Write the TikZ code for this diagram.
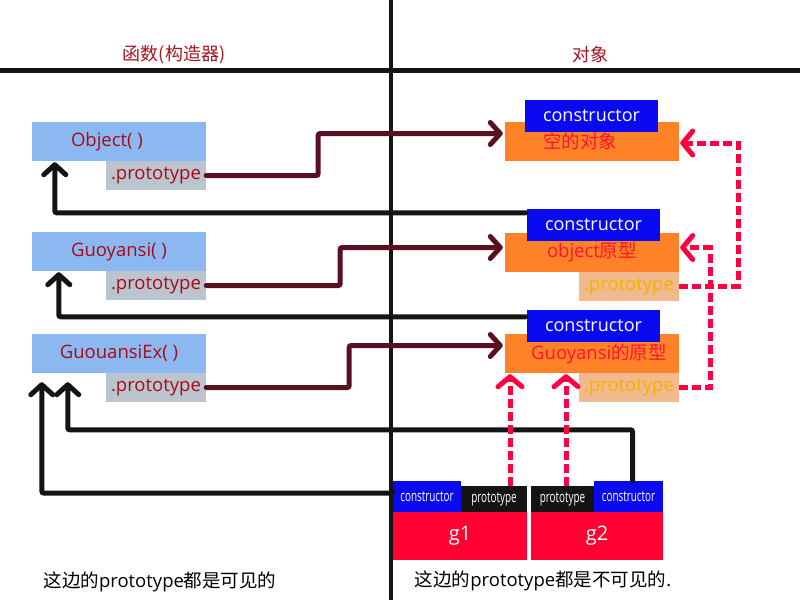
\documentclass[tikz,border=0pt]{standalone}
\usepackage{fontspec}
\usepackage{graphicx}
\setmainfont{Open Sans}
\newfontfamily\cjk{Noto Sans CJK SC}
\usetikzlibrary{arrows.meta,calc}
\definecolor{hdr}{RGB}{165,20,30}
\definecolor{dred}{RGB}{170,10,20}
\definecolor{lblue}{RGB}{139,184,240}
\definecolor{lgray}{RGB}{186,197,208}
\definecolor{orng}{RGB}{255,130,40}
\definecolor{cblue}{RGB}{10,10,240}
\definecolor{otext}{RGB}{255,20,50}
\definecolor{lorng}{RGB}{240,186,142}
\definecolor{ptext}{RGB}{248,176,0}
\definecolor{maroon}{RGB}{90,16,32}
\definecolor{lblack}{RGB}{20,20,20}
\definecolor{rdash}{RGB}{255,0,64}
\definecolor{gred}{RGB}{255,0,51}
\begin{document}
\begin{tikzpicture}[x=1pt,y=-1pt,
  fbox/.style={rectangle, fill=lblue, minimum width=174, minimum height=39, inner sep=0, text=dred, font=\fontsize{18.5}{22}\selectfont},
  pbox/.style={rectangle, fill=lgray, minimum width=100, minimum height=29, inner sep=0, text=dred, font=\fontsize{18.5}{22}\selectfont},
  obox/.style={rectangle, fill=orng, minimum width=174, minimum height=39, inner sep=0, text=otext, font=\fontsize{18.5}{22}\selectfont},
  cbox/.style={rectangle, fill=cblue, minimum width=133, minimum height=32, inner sep=0, text=white, font=\fontsize{18}{21}\selectfont},
  opbox/.style={rectangle, fill=lorng, minimum width=100, minimum height=28.5, inner sep=0, text=ptext, font=\fontsize{18.5}{22}\selectfont},
  gbox/.style={rectangle, fill=gred, minimum height=48, inner sep=0, text=white, font=\fontsize{20}{24}\selectfont},
  gcbox/.style={rectangle, fill=cblue, minimum height=31, inner sep=0, text=white, font=\fontsize{15}{18}\selectfont},
  gpbox/.style={rectangle, fill=lblack, minimum height=26, inner sep=0, text=white, font=\fontsize{15}{18}\selectfont},
  hdrtext/.style={text=hdr, font=\cjk\fontsize{18}{21}\selectfont, inner sep=0},
  btext/.style={text=black, font=\fontsize{18.5}{22}\selectfont, inner sep=0},
  blk/.style={draw=lblack, line width=5pt, rounded corners=2pt, line cap=round, -{Straight Barb[length=10pt,width=22pt,round]}},
  mrn/.style={draw=maroon, line width=5pt, rounded corners=2pt, line cap=round, -{Straight Barb[length=10pt,width=22pt,round]}},
  rdd/.style={draw=rdash, line width=5pt, dash pattern=on 9pt off 4pt, -{Straight Barb[length=10pt,width=24pt,round]}},
  divider/.style={draw=lblack, line width=4.5pt}
]
\useasboundingbox (0,0) rectangle (800,600);
\fill[white] (0,0) rectangle (800,600);
% dividers
\draw[divider] (391,0) -- (391,600);
\draw[divider] (0,70.5) -- (800,70.5);
% headers
\node[hdrtext] (h1) at (174,55) {函数(构造器)};
\node[hdrtext] (h2) at (590,55) {对象};
% left boxes
\node[fbox] (obj) at (119,141.5) {Object( )\hspace*{24pt}};
\node[pbox] (objp) at (156,175.5) {.prototype};
\node[fbox] (guo) at (119,251.5) {Guoyansi( )};
\node[pbox] (guop) at (156,285.5) {.prototype};
\node[fbox] (guoex) at (119,353.5) {GuouansiEx( )};
\node[pbox] (guoexp) at (156,387.5) {.prototype};
% right boxes
\node[obox] (o1) at (592,141.5) {{\cjk 空的对象}\hspace*{24pt}};
\node[cbox] (c1) at (591.5,116) {constructor};
\node[obox] (o2) at (592,252.5) {object{\cjk 原型}};
\node[cbox] (c2) at (593.5,225) {constructor};
\node[opbox] (p2) at (629,286.25) {.prototype};
\node[obox] (o3) at (592,353.5) {\hspace*{14pt}Guoyansi{\cjk 的原型}};
\node[cbox] (c3) at (593.5,326) {constructor};
\node[opbox] (p3) at (629,387.5) {.prototype};
% instances
\node[gbox, minimum width=134] (g1) at (460,536) {g1};
\node[gcbox, minimum width=68] (g1c) at (427,496.5) {\scalebox{0.66}[1]{constructor}};
\node[gpbox, minimum width=66] (g1p) at (494,499) {\scalebox{0.66}[1]{prototype}};
\node[gbox, minimum width=132] (g2) at (597,536) {g2};
\node[gpbox, minimum width=63] (g2p) at (562.5,499) {\scalebox{0.66}[1]{prototype}};
\node[gcbox, minimum width=69] (g2c) at (628.5,496.5) {\scalebox{0.66}[1]{constructor}};
% bottom texts
\node[btext] (b1) at (160,582) {{\cjk 这边的}prototype{\cjk 都是可见的}};
\node[btext] (b2) at (543,581) {{\cjk 这边的}prototype{\cjk 都是不可见的}.};
% maroon: prototype -> object
\draw[mrn] (objp.east) -- ++(112,0) |- ($(o1.west)+(-2,-8)$);
\draw[mrn] (guop.east) -- ++(134,0) |- ($(o2.west)+(-2,-5)$);
\draw[mrn] (guoexp.east) -- ++(143,0) |- ($(o3.west)+(-2,-8)$);
% black: constructor -> function
\draw[blk] ($(c2.north west)+(-1,4)$) -| ($(obj.south west)+(23,1)$);
\draw[blk] ($(c3.north west)+(-1,7)$) -| ($(guo.south west)+(27,1)$);
\draw[blk] ($(g2c.north)+(4,0)$) -- ++(0,-51) -| ($(guoex.south west)+(36,9)$);
\draw[blk] ($(g1c.west)+(0,-3.5)$) -| ($(guoex.south west)+(10,9)$);
% red dashed: __proto__ chain
\draw[rdd] (p2.east) -- ++(59,0) |- ($(o1.east)+(1,1.5)$);
\draw[rdd] (p3.east) -- ++(31,0) |- ($(o2.east)+(1,-5)$);
\coordinate (r1s) at ($(g1p.north)+(16,0)$);
\coordinate (r2s) at ($(g2p.north)+(3.5,0)$);
\draw[rdd] (r1s) -- ($(r1s |- o3.south)+(0,1)$);
\draw[rdd] (r2s) -- ($(r2s |- o3.south)+(0,1)$);
\end{tikzpicture}
\end{document}
